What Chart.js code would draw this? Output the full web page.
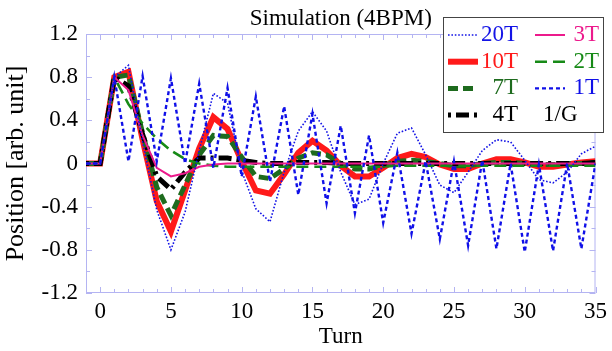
<!DOCTYPE html>
<html>
<head>
<meta charset="utf-8">
<script src="https://cdn.jsdelivr.net/npm/chart.js@4/dist/chart.umd.min.js"></script>
<style>
  html, body { margin: 0; padding: 0; background: #fff; }
  #wrap { width: 612px; height: 351px; }
</style>
</head>
<body>
<div id="wrap"><canvas id="simChart" width="612" height="351"></canvas></div>
<script>
// turn numbers along the x axis
const turns = [-1, 0, 1, 2, 3, 4, 5, 6, 7, 8, 9, 10, 11, 12, 13, 14, 15, 16, 17, 18,
               19, 20, 21, 22, 23, 24, 25, 26, 27, 28, 29, 30, 31, 32, 33, 34, 35];

// beam position, one array per feedback setting
const pos20T = [0, 0, 0.80, 0.91, 0.20, -0.43, -0.80, -0.45, 0.12, 0.65, 0.56, -0.07, -0.42, -0.54, -0.08, 0.30, 0.48, 0.30,
                -0.08, -0.38, -0.33, 0.00, 0.28, 0.33, 0.08, -0.20, -0.27, -0.08, 0.12, 0.22, 0.20, 0.03, -0.15, -0.18, -0.08, 0.09, 0.16];
const pos10T = [0, 0, 0.80, 0.85, 0.22, -0.35, -0.63, -0.25, 0.14, 0.43, 0.32, 0.02, -0.25, -0.28, -0.10, 0.10, 0.21, 0.12,
                -0.02, -0.12, -0.12, -0.04, 0.05, 0.09, 0.06, -0.01, -0.05, -0.05, 0.00, 0.04, 0.04, 0.01, -0.03, -0.03, -0.01, 0.01, 0.02];
const pos7T  = [0, 0, 0.80, 0.82, 0.28, -0.22, -0.48, -0.20, 0.08, 0.26, 0.25, 0.06, -0.12, -0.14, -0.05, 0.05, 0.10, 0.08,
                0.00, -0.05, -0.05, -0.02, 0.02, 0.03, 0.02, 0.00, -0.02, -0.02, 0.00, 0.01, 0.01, 0.00, -0.01, -0.01, 0.00, 0.00, 0.01];
const pos4T  = [0, 0, 0.80, 0.72, 0.27, -0.12, -0.24, -0.08, 0.05, 0.05, 0.05, 0.03, 0.01, 0.00, 0.00, 0.01, 0.01, 0.01,
                0.00, 0.00, 0.00, 0.00, 0.00, 0.00, 0.00, 0.00, 0.00, 0.00, 0.00, 0.00, 0.00, 0.00, 0.00, 0.00, 0.00, 0.00, 0.01];
const pos3T  = [0, 0, 0.80, 0.68, 0.26, -0.04, -0.12, -0.09, -0.03, -0.01, 0.00, 0.00, 0.00, 0.00, 0.00, 0.00, 0.00, 0.00,
                0.00, 0.00, 0.00, 0.00, 0.00, 0.00, 0.00, 0.00, 0.00, 0.00, 0.00, 0.00, 0.00, 0.00, 0.00, 0.00, 0.00, 0.00, 0.00];
const pos2T  = [0, 0, 0.80, 0.55, 0.37, 0.23, 0.12, 0.04, 0.00, -0.02, -0.03, -0.03, -0.03, -0.03, -0.03, -0.03, -0.03, -0.03,
                -0.03, -0.03, -0.03, -0.03, -0.02, -0.02, -0.02, -0.02, -0.02, -0.02, -0.02, -0.02, -0.02, -0.02, -0.02, -0.02, -0.02, -0.02, -0.02];
const pos1T  = [0, 0, 0.80, 0.02, 0.81, 0.02, 0.79, 0.00, 0.74, -0.04, 0.70, -0.12, 0.62, -0.17, 0.53, -0.29, 0.46, -0.37,
                0.35, -0.46, 0.26, -0.55, 0.10, -0.65, 0.02, -0.70, 0.02, -0.76, 0.03, -0.79, 0.00, -0.82, -0.01, -0.81, 0.00, -0.79, 0.00];

const yTickLabels = ['-1.2', '-0.8', '-0.4', '0', '0.4', '0.8', '1.2'];

const FONT = '"Liberation Serif", "Times New Roman", serif';
const FRAME = '#b4b4f2';

function pts(values) {
    return turns.map((t, i) => ({ x: t, y: values[i] }));
}

// frame with inward ticks on all four sides
const frameTicks = {
    id: 'frameTicks',
    beforeDatasetsDraw(chart) {
        const { ctx, chartArea: a, scales } = chart;
        ctx.save();
        ctx.strokeStyle = FRAME;
        ctx.lineWidth = 1;
        ctx.strokeRect(a.left + 0.5, a.top + 0.5, a.right - a.left - 1, a.bottom - a.top - 1);
        ctx.beginPath();
        for (let v = -1; v <= 35; v++) {
            const x = Math.round(scales.x.getPixelForValue(v)) + 0.5;
            const len = v % 5 === 0 ? 6 : 4;
            ctx.moveTo(x, a.bottom); ctx.lineTo(x, a.bottom - len);
            ctx.moveTo(x, a.top); ctx.lineTo(x, a.top + len);
        }
        for (let k = -6; k <= 6; k++) {
            const y = Math.round(scales.y.getPixelForValue(k * 0.2)) + 0.5;
            const len = k % 2 === 0 ? 6 : 4;
            ctx.moveTo(a.left, y); ctx.lineTo(a.left + len, y);
            ctx.moveTo(a.right, y); ctx.lineTo(a.right - len, y);
        }
        ctx.stroke();
        ctx.restore();
    }
};

// title and boxed legend drawn on top
const boxLegend = {
    id: 'boxLegend',
    afterDraw(chart) {
        const { ctx, chartArea: a } = chart;
        ctx.save();
        ctx.font = '23px ' + FONT;
        ctx.fillStyle = '#000';
        ctx.textAlign = 'center';
        ctx.textBaseline = 'middle';
        ctx.fillText('Simulation (4BPM)', (a.left + a.right) / 2, 19);

        ctx.fillStyle = '#fff';
        ctx.fillRect(443, 17, 160, 115);
        ctx.strokeStyle = '#444';
        ctx.lineWidth = 1;
        ctx.strokeRect(443.5, 17.5, 160, 115);

        const colX = [448, 535];
        const textRight = [518, 599];
        chart.data.datasets.forEach((ds, i) => {
            const col = Math.floor(i / 4), row = i % 4;
            const y = 35 + row * 26.7;
            const x0 = colX[col];
            if (ds.legendLine !== false) {
                ctx.beginPath();
                ctx.strokeStyle = ds.borderColor;
                ctx.lineWidth = ds.borderWidth;
                ctx.setLineDash(ds.borderDash || []);
                ctx.moveTo(x0, y); ctx.lineTo(x0 + 30, y);
                ctx.stroke();
                ctx.setLineDash([]);
                ctx.textAlign = 'right';
                ctx.fillStyle = ds.textColor;
                ctx.fillText(ds.label, textRight[col], y);
            } else {
                ctx.textAlign = 'left';
                ctx.fillStyle = ds.textColor;
                ctx.fillText(ds.label, x0 + 8, y);
            }
        });
        ctx.restore();
    }
};

Chart.defaults.font.family = FONT;
Chart.defaults.font.size = 23;
Chart.defaults.color = '#000';

new Chart(document.getElementById('simChart'), {
    type: 'line',
    data: {
        datasets: [
            { label: '20T', data: pts(pos20T), borderColor: '#1414e6', textColor: '#1414e6', borderWidth: 1.6, borderDash: [1.6, 1.8], order: 2 },
            { label: '10T', data: pts(pos10T), borderColor: '#ff1a1a', textColor: '#ff1a1a', borderWidth: 6, order: 7 },
            { label: '7T',  data: pts(pos7T),  borderColor: '#1e6b1e', textColor: '#1e6b1e', borderWidth: 5, borderDash: [10, 5], order: 6 },
            { label: '4T',  data: pts(pos4T),  borderColor: '#000000', textColor: '#000000', borderWidth: 5, borderDash: [3, 5, 13, 5], order: 5 },
            { label: '3T',  data: pts(pos3T),  borderColor: '#ec1a8c', textColor: '#ec1a8c', borderWidth: 2, order: 3 },
            { label: '2T',  data: pts(pos2T),  borderColor: '#178a17', textColor: '#178a17', borderWidth: 2.6, borderDash: [12, 6], order: 4 },
            { label: '1T',  data: pts(pos1T),  borderColor: '#1010e8', textColor: '#1010e8', borderWidth: 2.4, borderDash: [4, 3], order: 1 },
            { label: '1/G', data: [], borderColor: 'rgba(0,0,0,0)', textColor: '#000000', borderWidth: 0, legendLine: false, order: 8 }
        ]
    },
    options: {
        responsive: false,
        animation: false,
        devicePixelRatio: 1,
        layout: { padding: { top: 34, right: 12, left: 0, bottom: 0 } },
        elements: { point: { radius: 0 }, line: { tension: 0, fill: false, borderCapStyle: 'butt', borderJoinStyle: 'miter' } },
        scales: {
            x: {
                type: 'linear', min: -1, max: 35,
                grid: { display: false, drawTicks: false }, border: { display: false },
                ticks: { stepSize: 5, includeBounds: false, padding: 5, maxRotation: 0 },
                title: { display: true, text: 'Turn', padding: { top: 0, bottom: 0 } },
                afterFit(scale) { scale.height = 58; }
            },
            y: {
                type: 'linear', min: -1.2, max: 1.2,
                grid: { display: false, drawTicks: false }, border: { display: false },
                ticks: {
                    stepSize: 0.4, padding: 8,
                    callback: (v) => yTickLabels[Math.round((v + 1.2) / 0.4)]
                },
                title: { display: true, text: 'Position [arb. unit]', font: { size: 26 }, padding: { top: 1, bottom: 0 } },
                afterFit(scale) { scale.width = 86; }
            }
        },
        plugins: {
            legend: { display: false },
            title: { display: false },
            tooltip: { enabled: false }
        }
    },
    plugins: [frameTicks, boxLegend]
});
</script>
</body>
</html>
